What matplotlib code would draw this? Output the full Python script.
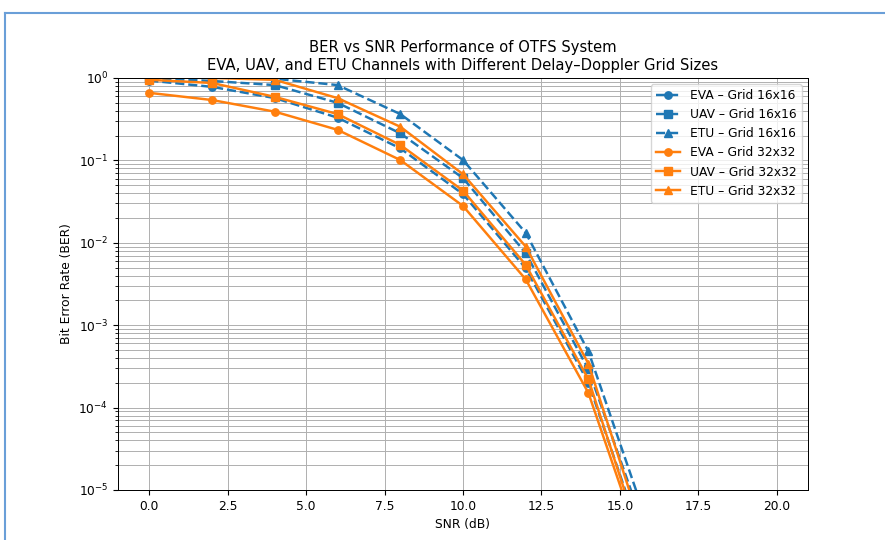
import matplotlib
matplotlib.use("Agg")
import matplotlib.pyplot as plt
from matplotlib.lines import Line2D
import numpy as np

snr = [0, 2, 4, 6, 8, 10, 12, 14, 16, 18, 20]

# grid 16x16
eva_16 = [0.93, 0.78, 0.57, 0.33, 0.14, 0.039, 0.0049, 2.0e-4, 1.2e-6, 1e-9, 1e-12]
uav_16 = [1.0, 0.92, 0.82, 0.50, 0.213, 0.061, 0.0075, 2.9e-4, 2.0e-6, 1e-9, 1e-12]
etu_16 = [1.15, 1.05, 0.98, 0.82, 0.365, 0.101, 0.0132, 4.8e-4, 2.9e-6, 1e-9, 1e-12]

# grid 32x32
eva_32 = [0.66, 0.54, 0.39, 0.235, 0.101, 0.028, 0.0036, 1.5e-4, 9e-7, 1e-9, 1e-12]
uav_32 = [0.95, 0.87, 0.59, 0.365, 0.154, 0.043, 0.0054, 2.2e-4, 1.0e-6, 1e-9, 1e-12]
etu_32 = [1.02, 1.0, 0.95, 0.57, 0.256, 0.068, 0.0090, 3.4e-4, 1.5e-6, 1e-9, 1e-12]

# original figure looks like a 10x6 in plot shrunk to 885 px
s = 0.885
plt.rcParams['font.size'] = 10 * s
plt.rcParams['axes.titlesize'] = 12 * s
plt.rcParams['lines.markersize'] = 6 * s
plt.rcParams['grid.linewidth'] = 0.8 * s
plt.rcParams['axes.linewidth'] = 0.8 * s

fig = plt.figure(figsize=(8.85, 5.4), dpi=100)
ax = fig.add_axes([0.1333, 0.0926, 0.7797, 0.763])

lw = 2 * s
ax.semilogy(snr, eva_16, 'o--', color='C0', lw=lw, label="EVA – Grid 16x16")
ax.semilogy(snr, uav_16, 's--', color='C0', lw=lw, label="UAV – Grid 16x16")
ax.semilogy(snr, etu_16, '^--', color='C0', lw=lw, label="ETU – Grid 16x16")
ax.semilogy(snr, eva_32, 'o-', color='C1', lw=lw, label="EVA – Grid 32x32")
ax.semilogy(snr, uav_32, 's-', color='C1', lw=lw, label="UAV – Grid 32x32")
ax.semilogy(snr, etu_32, '^-', color='C1', lw=lw, label="ETU – Grid 32x32")

ax.set_ylim(1e-5, 1)
ax.set_xlabel("SNR (dB)")
ax.set_ylabel("Bit Error Rate (BER)")
ax.set_title("BER vs SNR Performance of OTFS System\n"
             "EVA, UAV, and ETU Channels with Different Delay–Doppler Grid Sizes")
ax.grid(True, which='both')
ax.legend(loc='upper right')

# screenshot frame
fig.add_artist(Line2D([5/885, 1], [1-13/540, 1-13/540], transform=fig.transFigure,
                      color='#6a9fd8', lw=1.5))
fig.add_artist(Line2D([5/885, 5/885], [0, 1-13/540], transform=fig.transFigure,
                      color='#6a9fd8', lw=1.5))

fig.savefig("out.png", dpi=100)
